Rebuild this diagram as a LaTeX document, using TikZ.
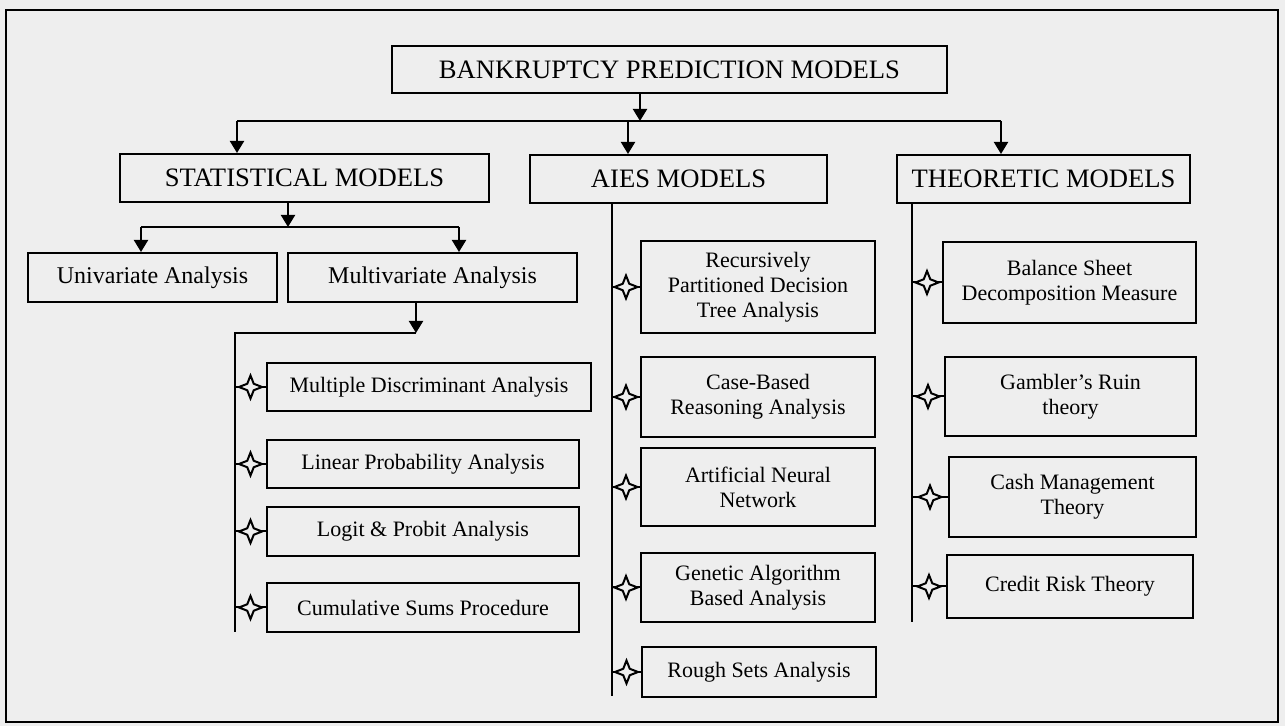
\documentclass[tikz,border=0pt]{standalone}
\usepackage{fontspec}
\setmainfont{Liberation Serif}
\usetikzlibrary{arrows.meta,shapes.geometric}
\definecolor{paper}{RGB}{238,238,238}
\tikzset{
  box/.style={draw, line width=1pt, align=center, inner sep=2pt,
    font=\fontsize{11}{12.6}\selectfont},
  midbox/.style={box, font=\fontsize{12}{14}\selectfont},
  bigbox/.style={box, font=\fontsize{13.3}{15}\selectfont},
  arr/.style={-{Triangle[width=7pt,length=6pt]}, line width=1pt},
  trunk/.style={line width=1pt},
  spark/.style={star, star points=4, star point ratio=2.5, minimum size=11.5pt,
    inner sep=0pt, draw, fill=paper, line width=1pt},
}

\begin{document}
\begin{tikzpicture}[x=0.5pt,y=-0.5pt]
    % Paper and frame
    \fill[paper] (0,0) rectangle (1285,726);
    \draw[line width=1.2pt] (6,10) rectangle (1278,722);
    % Top level
    \node[bigbox, minimum width=277.5pt, minimum height=23.5pt] (bpm) at (669.5,69.5) {BANKRUPTCY PREDICTION MODELS};
    % Three families
    \node[bigbox, minimum width=184.5pt, minimum height=24pt] (stat) at (304.5,178) {STATISTICAL MODELS};
    \node[bigbox, minimum width=148.5pt, minimum height=24pt] (aies) at (678.5,179) {AIES MODELS};
    \node[bigbox, minimum width=146.5pt, minimum height=24pt] (theo) at (1043.5,179) {THEORETIC MODELS};
    % Statistical models
    \node[midbox, minimum width=124.5pt, minimum height=24.5pt] (univ) at (152.5,277.5) {Univariate Analysis};
    \node[midbox, minimum width=144.5pt, minimum height=24.5pt] (multi) at (432.5,277.5) {Multivariate Analysis};
    \node[box, minimum width=162pt, minimum height=24pt] (mda) at (429,387) {Multiple Discriminant Analysis};
    \node[box, minimum width=156pt, minimum height=24pt] (lpa) at (423,464) {Linear Probability Analysis};
    \node[box, minimum width=156pt, minimum height=24.5pt] (logit) at (423,531.5) {Logit \& Probit Analysis};
    \node[box, minimum width=156pt, minimum height=24.5pt] (cusum) at (423,607.5) {Cumulative Sums Procedure};
    % AIES models
    \node[box, minimum width=117pt, minimum height=46pt] (rpdt) at (758,287) {Recursively\\Partitioned Decision\\Tree Analysis};
    \node[box, minimum width=117pt, minimum height=40pt] (cbr) at (758,397) {Case-Based\\Reasoning Analysis};
    \node[box, minimum width=117pt, minimum height=39pt] (ann) at (758,487) {Artificial Neural\\Network};
    \node[box, minimum width=117pt, minimum height=34.5pt] (ga) at (758,587.5) {Genetic Algorithm\\Based Analysis};
    \node[box, minimum width=117pt, minimum height=25pt] (rsa) at (759,672) {Rough Sets Analysis};
    % Theoretic models
    \node[box, minimum width=126.5pt, minimum height=40.5pt] (bsdm) at (1069.5,282.5) {Balance Sheet\\Decomposition Measure};
    \node[box, minimum width=125.5pt, minimum height=39.5pt] (gamb) at (1070.5,396.5) {Gambler's Ruin\\theory};
    \node[box, minimum width=123.5pt, minimum height=40pt] (cash) at (1072.5,497) {Cash Management\\Theory};
    \node[box, minimum width=123pt, minimum height=31.5pt] (credit) at (1070,586.5) {Credit Risk Theory};

    % Branching below the top box
    \coordinate (j0) at (640,121);
    \coordinate (js) at (237,121);
    \coordinate (ja) at (628,121);
    \coordinate (jt) at (1001,121);
    \draw[arr] (bpm.south -| j0) -- (j0);
    \draw[trunk] (js) -- (jt);
    \draw[arr] (js) -- (js |- stat.north);
    \draw[arr] (ja) -- (ja |- aies.north);
    \draw[arr] (jt) -- (jt |- theo.north);

    % Statistical branch
    \coordinate (s0) at (288,227);
    \coordinate (s1) at (141,227);
    \coordinate (s2) at (459,227);
    \draw[arr] (s0 |- stat.south) -- (s0);
    \draw[trunk] (s1) -- (s2);
    \draw[arr] (s1) -- (s1 |- univ.north);
    \draw[arr] (s2) -- (s2 |- multi.north);
    \coordinate (m0) at (416,333);
    \coordinate (m1) at (235,333);
    \coordinate (m2) at (235,632);
    \draw[arr] (m0 |- multi.south) -- (m0);
    \draw[trunk] (m0) -- (m1) -- (m2);
    \foreach \n in {mda,lpa,logit,cusum}
        \draw[trunk] (m1 |- \n.west) -- (\n.west) node[spark, midway] {};

    % AIES branch
    \coordinate (a1) at (612,696);
    \draw[trunk] (a1 |- aies.south) -- (a1);
    \foreach \n in {rpdt,cbr,ann,ga,rsa}
        \draw[trunk] (a1 |- \n.west) -- (\n.west) node[spark, midway] {};

    % Theoretic branch
    \coordinate (t1) at (912,622);
    \draw[trunk] (t1 |- theo.south) -- (t1);
    \foreach \n in {bsdm,gamb,cash,credit}
        \draw[trunk] (t1 |- \n.west) -- (\n.west) node[spark, midway] {};
\end{tikzpicture}
\end{document}
